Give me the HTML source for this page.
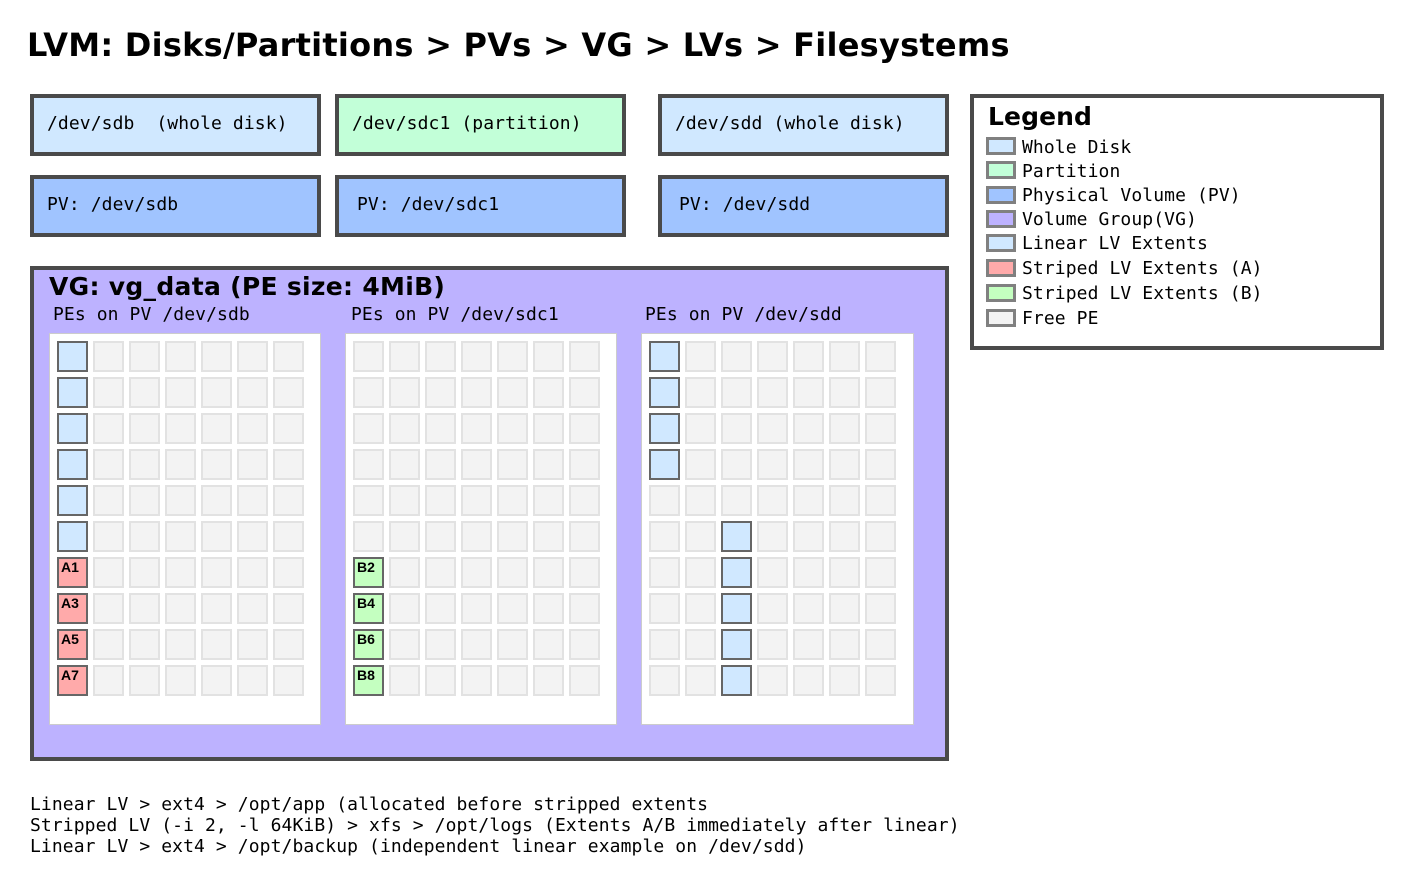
<!DOCTYPE html><html><head><style>
body{margin:0;width:1412px;height:883px;background:#fff;position:relative;overflow:hidden;font-family:"DejaVu Sans Mono","Liberation Mono",monospace;color:#000}
.a{position:absolute;box-sizing:border-box}
.box{border:4px solid #4a4a4a;font-size:18px;padding-left:13px;line-height:52px;white-space:pre;letter-spacing:0.1px}
.t{position:absolute;white-space:pre;letter-spacing:0.1px}
.cell{position:absolute;width:31px;height:31px;box-sizing:border-box;border:2px solid #e2e2e2;background:#f3f3f3}
.c{border:2px solid #666;background:#d0e8ff}
.r{background:#ffaaaa}.g{background:#c4ffc0}
.cell span{font-family:"Liberation Sans",sans-serif;font-weight:bold;font-size:14px;position:absolute;left:2px;top:0}
.sw{position:absolute;left:986px;width:30px;height:18px;box-sizing:border-box;border:3px solid #808080}
</style></head><body>
<div class="t" style="left:27px;top:26px;font-family:'DejaVu Sans','Liberation Sans',sans-serif;font-weight:bold;font-size:32px;letter-spacing:0.25px">LVM: Disks/Partitions &gt; PVs &gt; VG &gt; LVs &gt; Filesystems</div>
<div class="a box" style="left:30px;top:94px;width:291px;height:62px;background:#d0e8ff">/dev/sdb  (whole disk)</div>
<div class="a box" style="left:335px;top:94px;width:291px;height:62px;background:#c2ffd8">/dev/sdc1 (partition)</div>
<div class="a box" style="left:658px;top:94px;width:291px;height:62px;background:#d0e8ff">/dev/sdd (whole disk)</div>
<div class="a box" style="left:30px;top:175px;width:291px;height:62px;background:#a0c4ff">PV: /dev/sdb</div>
<div class="a box" style="left:335px;top:175px;width:291px;height:62px;background:#a0c4ff;padding-left:18px">PV: /dev/sdc1</div>
<div class="a box" style="left:658px;top:175px;width:291px;height:62px;background:#a0c4ff;padding-left:17px">PV: /dev/sdd</div>
<div class="a" style="left:30px;top:266px;width:919px;height:495px;background:#bdb2ff;border:4px solid #4a4a4a"></div>
<div class="t" style="left:49px;top:272px;font-family:'DejaVu Sans','Liberation Sans',sans-serif;font-weight:bold;font-size:25px;letter-spacing:0.3px">VG: vg_data (PE size: 4MiB)</div>
<div class="t" style="left:53px;top:304px;font-size:18px">PEs on PV /dev/sdb</div>
<div class="t" style="left:351px;top:304px;font-size:18px">PEs on PV /dev/sdc1</div>
<div class="t" style="left:645px;top:304px;font-size:18px">PEs on PV /dev/sdd</div>
<div class="a" style="left:49px;top:333px;width:272px;height:392px;background:#fff;border:1px solid #ccc"></div>
<div class="a" style="left:345px;top:333px;width:272px;height:392px;background:#fff;border:1px solid #ccc"></div>
<div class="a" style="left:641px;top:333px;width:273px;height:392px;background:#fff;border:1px solid #ccc"></div>
<div id="g"></div>
<div class="a" style="left:970px;top:94px;width:414px;height:256px;border:4px solid #4a4a4a"></div>
<div class="t" style="left:988px;top:102px;font-family:'DejaVu Sans','Liberation Sans',sans-serif;font-weight:bold;font-size:25px">Legend</div>
<div class="sw" style="top:137px;background:#d0e8ff"></div><div class="t" style="left:1022px;top:137px;font-size:18px">Whole Disk</div>
<div class="sw" style="top:161px;background:#c2ffd8"></div><div class="t" style="left:1022px;top:161px;font-size:18px">Partition</div>
<div class="sw" style="top:186px;background:#a0c4ff"></div><div class="t" style="left:1022px;top:185px;font-size:18px">Physical Volume (PV)</div>
<div class="sw" style="top:210px;background:#bdb2ff"></div><div class="t" style="left:1022px;top:209px;font-size:18px">Volume Group(VG)</div>
<div class="sw" style="top:234px;background:#d0e8ff"></div><div class="t" style="left:1022px;top:233px;font-size:18px">Linear LV Extents</div>
<div class="sw" style="top:259px;background:#ffaaaa"></div><div class="t" style="left:1022px;top:258px;font-size:18px">Striped LV Extents (A)</div>
<div class="sw" style="top:284px;background:#c4ffc0"></div><div class="t" style="left:1022px;top:283px;font-size:18px">Striped LV Extents (B)</div>
<div class="sw" style="top:309px;background:#f3f3f3"></div><div class="t" style="left:1022px;top:308px;font-size:18px">Free PE</div>
<div class="t" style="left:30px;top:794px;font-size:18px;line-height:21px">Linear LV &gt; ext4 &gt; /opt/app (allocated before stripped extents
Stripped LV (-i 2, -l 64KiB) &gt; xfs &gt; /opt/logs (Extents A/B immediately after linear)
Linear LV &gt; ext4 &gt; /opt/backup (independent linear example on /dev/sdd)</div>
<script>
var g=document.getElementById('g'),h='';
var px=[57,353,649];
for(var p=0;p<3;p++)for(var r=0;r<10;r++)for(var c=0;c<7;c++){
 var cls='cell',lab='';
 if(p==0&&c==0){if(r<6)cls+=' c';else{cls+=' c r';lab='A'+(2*(r-6)+1);}}
 if(p==1&&c==0&&r>=6){cls+=' c g';lab='B'+(2*(r-6)+2);}
 if(p==2&&((c==0&&r<4)||(c==2&&r>=5)))cls+=' c';
 h+='<div class="'+cls+'" style="left:'+(px[p]+36*c)+'px;top:'+(341+36*r)+'px">'+(lab?'<span>'+lab+'</span>':'')+'</div>';
}
g.innerHTML=h;
</script>
</body></html>
